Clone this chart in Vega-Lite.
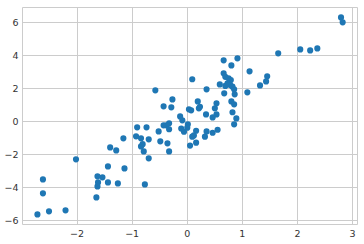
{
  "$schema": "https://vega.github.io/schema/vega-lite/v6.json",
  "width": 335,
  "height": 217,
  "autosize": "none",
  "padding": {"left": 22, "top": 7, "right": 7, "bottom": 20},
  "background": "white",
  "config": {
    "view": {"stroke": "#cccccc", "strokeWidth": 1},
    "axis": {
      "domain": false,
      "ticks": false,
      "grid": true,
      "gridColor": "#cccccc",
      "gridWidth": 1,
      "labelFont": "DejaVu Sans",
      "labelFontSize": 9.5,
      "labelColor": "#333333",
      "labelPadding": 4,
      "title": null
    }
  },
  "data": {
    "values": [
      {"x": 2.80, "y": 6.30}, {"x": 2.83, "y": 6.00}, {"x": 1.66, "y": 4.12}, {"x": 2.06, "y": 4.36},
      {"x": 2.24, "y": 4.30}, {"x": 2.37, "y": 4.42}, {"x": 1.46, "y": 2.73}, {"x": 1.44, "y": 2.42},
      {"x": 1.33, "y": 2.18}, {"x": 1.14, "y": 3.03}, {"x": 1.10, "y": 1.76}, {"x": 0.92, "y": 3.82},
      {"x": 0.67, "y": 3.70}, {"x": 0.81, "y": 3.39}, {"x": 0.67, "y": 2.91}, {"x": 0.70, "y": 2.70},
      {"x": 0.76, "y": 2.61}, {"x": 0.80, "y": 2.50}, {"x": 0.60, "y": 2.24}, {"x": 0.74, "y": 2.30},
      {"x": 0.79, "y": 2.20}, {"x": 0.83, "y": 2.10}, {"x": 0.86, "y": 1.94}, {"x": 0.70, "y": 2.15},
      {"x": 0.36, "y": 1.94}, {"x": 0.68, "y": 1.70}, {"x": 0.87, "y": 1.64}, {"x": 0.81, "y": 1.21},
      {"x": 0.86, "y": 1.03}, {"x": 0.83, "y": 0.55}, {"x": 0.90, "y": 0.18}, {"x": 0.86, "y": -0.18},
      {"x": 0.56, "y": -0.51}, {"x": 0.47, "y": -0.69}, {"x": 0.36, "y": -0.61}, {"x": 0.33, "y": -0.93},
      {"x": 0.17, "y": -1.29}, {"x": 0.06, "y": -1.47}, {"x": 0.10, "y": -0.93}, {"x": 0.17, "y": -0.57},
      {"x": 0.13, "y": -0.85}, {"x": 0.54, "y": 1.09}, {"x": 0.51, "y": 0.79}, {"x": 0.54, "y": 0.42},
      {"x": 0.47, "y": 0.24}, {"x": 0.35, "y": 0.42}, {"x": 0.22, "y": 0.79}, {"x": 0.20, "y": 1.21},
      {"x": 0.24, "y": 0.88}, {"x": 0.10, "y": 2.55}, {"x": 0.04, "y": 0.73}, {"x": 0.08, "y": 0.67},
      {"x": -0.12, "y": 0.30}, {"x": -0.08, "y": 0.06}, {"x": 0.02, "y": -0.18}, {"x": 0.01, "y": -0.38},
      {"x": -0.10, "y": -0.44}, {"x": -0.05, "y": -0.63}, {"x": -0.57, "y": 1.88}, {"x": -0.26, "y": 1.33},
      {"x": -0.42, "y": 0.91}, {"x": -0.28, "y": 0.85}, {"x": -0.32, "y": -0.12}, {"x": -0.37, "y": -0.24},
      {"x": -0.42, "y": -0.24}, {"x": -0.32, "y": -0.48}, {"x": -0.51, "y": -0.61}, {"x": -0.48, "y": -1.21},
      {"x": -0.35, "y": -1.33}, {"x": -0.32, "y": -1.82}, {"x": -0.69, "y": -1.09}, {"x": -0.69, "y": -2.24},
      {"x": -0.73, "y": -0.36}, {"x": -0.90, "y": -0.36}, {"x": -0.92, "y": -0.91}, {"x": -0.83, "y": -1.03},
      {"x": -0.83, "y": -1.52}, {"x": -0.80, "y": -1.38}, {"x": -0.78, "y": -1.82}, {"x": -0.76, "y": -3.82},
      {"x": -1.15, "y": -1.03}, {"x": -1.13, "y": -2.85}, {"x": -1.28, "y": -1.76}, {"x": -1.39, "y": -1.58},
      {"x": -1.43, "y": -2.73}, {"x": -1.43, "y": -3.70}, {"x": -1.25, "y": -3.76}, {"x": -1.53, "y": -3.39},
      {"x": -1.62, "y": -3.33}, {"x": -1.61, "y": -3.70}, {"x": -1.62, "y": -3.94}, {"x": -1.64, "y": -4.61},
      {"x": -2.01, "y": -2.30}, {"x": -2.20, "y": -5.39}, {"x": -2.50, "y": -5.45}, {"x": -2.71, "y": -5.64},
      {"x": -2.61, "y": -3.52}, {"x": -2.61, "y": -4.36}
    ]
  },
  "mark": {"type": "point", "filled": true, "opacity": 1, "color": "#1f77b4", "size": 38},
  "encoding": {
    "x": {
      "field": "x", "type": "quantitative",
      "scale": {"domain": [-2.99, 3.09], "nice": false, "zero": false},
      "axis": {"values": [-2, -1, 0, 1, 2, 3], "format": "d"}
    },
    "y": {
      "field": "y", "type": "quantitative",
      "scale": {"domain": [-6.22, 6.93], "nice": false, "zero": false},
      "axis": {"values": [-6, -4, -2, 0, 2, 4, 6], "format": "d"}
    }
  }
}
